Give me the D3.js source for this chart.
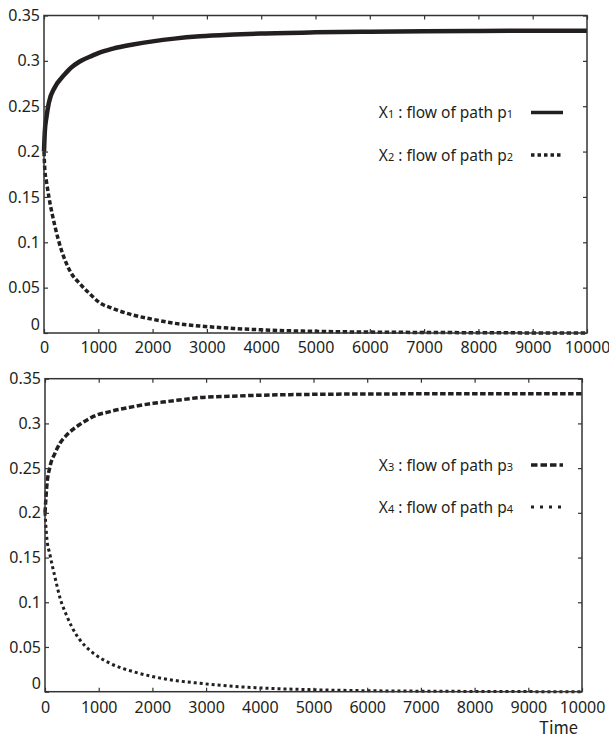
<!DOCTYPE html>
<html>
<head>
<meta charset="utf-8">
<script src="https://cdn.jsdelivr.net/npm/d3@7"></script>
<style>
  html, body { margin: 0; padding: 0; background: #fff; }
  svg { display: block; }
</style>
</head>
<body>
<svg id="chart" width="609" height="738"></svg>
<script>
// time samples (x) and flows
const timeTop = [0, 15, 45, 90, 200, 320, 410, 500, 650, 900, 1000, 1270, 1640, 2000, 2400, 2870, 3500, 4000, 5000, 6000, 7000, 8000, 9000, 10000];
const flowX1 = [0.2, 0.222, 0.238, 0.254, 0.271, 0.281, 0.287, 0.2925, 0.299, 0.306, 0.3086, 0.3135, 0.318, 0.3215, 0.3245, 0.327, 0.329, 0.3302, 0.3315, 0.3322, 0.3327, 0.333, 0.3332, 0.3333];
const flowX2 = [0.2, 0.18, 0.167, 0.15, 0.118, 0.0915, 0.077, 0.066, 0.055, 0.04, 0.0345, 0.027, 0.0198, 0.0151, 0.0107, 0.0077, 0.005, 0.0035, 0.0018, 0.001, 0.0006, 0.0003, 0.0001, 0];

const timeBottom = [0, 32, 93, 186, 279, 404, 590, 652, 838, 900, 1210, 1645, 2017, 2266, 2452, 2886, 3500, 4000, 5000, 6000, 7000, 8000, 9000, 10000];
const flowX3 = [0.2, 0.229, 0.2517, 0.2667, 0.2778, 0.2871, 0.2964, 0.299, 0.3058, 0.3078, 0.3132, 0.3188, 0.3225, 0.3244, 0.3258, 0.3289, 0.3305, 0.3315, 0.3325, 0.3329, 0.3331, 0.3332, 0.3333, 0.3333];
const flowX4 = [0.2, 0.173, 0.153, 0.128, 0.105, 0.085, 0.063, 0.0578, 0.046, 0.043, 0.0318, 0.0224, 0.0168, 0.014, 0.0123, 0.0094, 0.006, 0.0042, 0.0022, 0.0011, 0.0006, 0.0003, 0.0001, 0];

const xTicks = [0, 1000, 2000, 3000, 4000, 5000, 6000, 7000, 8000, 9000, 10000];
const yTicks = [0, 0.05, 0.1, 0.15, 0.2, 0.25, 0.3, 0.35];
const yTickLabels = ["0", "0.05", "0.1", "0.15", "0.2", "0.25", "0.3", "0.35"];

const INK = "#231f20";
const AXIS = "#333";
const FONT = "'Noto Sans', 'Open Sans', sans-serif";

const svg = d3.select("#chart");

function drawPanel(cfg) {
  const x = d3.scaleLinear().domain([0, 10000]).range([cfg.left, cfg.right]);
  const y = d3.scaleLinear().domain([0, 0.35]).range([cfg.bottom, cfg.top]);
  const g = svg.append("g");

  // series
  cfg.series.forEach(s => {
    const line = d3.line()
      .x((d, i) => x(cfg.time[i]))
      .y(d => y(d))
      .curve(d3.curveMonotoneX);
    g.append("path")
      .attr("d", line(s.values))
      .attr("fill", "none")
      .attr("stroke", INK)
      .attr("stroke-width", s.width)
      .attr("stroke-dasharray", s.dash || null)
      .attr("stroke-linejoin", "round");
  });

  // frame
  g.append("rect")
    .attr("x", cfg.left).attr("y", cfg.top)
    .attr("width", cfg.right - cfg.left).attr("height", cfg.bottom - cfg.top)
    .attr("fill", "none").attr("stroke", AXIS).attr("stroke-width", 1.5);

  const fmtY = d => yTickLabels[yTicks.indexOf(d)];

  g.append("g")
    .attr("transform", `translate(0,${cfg.bottom})`)
    .call(d3.axisBottom(x).tickValues(xTicks).tickSize(-4).tickPadding(cfg.xPad).tickFormat(d3.format("d")));
  g.append("g")
    .attr("transform", `translate(0,${cfg.top})`)
    .call(d3.axisTop(x).tickValues(xTicks).tickSize(-4).tickFormat(""));
  const leftAxis = g.append("g")
    .attr("transform", `translate(${cfg.left},0)`)
    .call(d3.axisLeft(y).tickValues(yTicks).tickSize(-4).tickPadding(4).tickFormat(fmtY));
  g.append("g")
    .attr("transform", `translate(${cfg.right},0)`)
    .call(d3.axisRight(y).tickValues(yTicks).tickSize(-4).tickFormat(""));

  g.selectAll(".domain").remove();
  g.selectAll(".tick line").attr("stroke", AXIS).attr("stroke-width", 1.2);
  g.selectAll(".tick text")
    .attr("fill", INK)
    .style("font-family", FONT)
    .style("font-size", "16px");
  leftAxis.selectAll(".tick text")
    .filter(d => d === 0)
    .attr("dy", "-0.2em");

  // legend
  cfg.series.forEach((s, i) => {
    const ly = cfg.legendY[i];
    const t = g.append("text")
      .attr("x", 513).attr("y", ly + 5.5)
      .attr("text-anchor", "end")
      .attr("fill", INK)
      .style("font-family", FONT)
      .style("font-size", "15.5px");
    t.append("tspan").text("X");
    t.append("tspan").style("font-size", "11px").text(s.idx);
    t.append("tspan").text(" : flow of path p");
    t.append("tspan").style("font-size", "11px").text(s.idx);

    g.append("line")
      .attr("x1", 531).attr("x2", 563)
      .attr("y1", ly).attr("y2", ly)
      .attr("stroke", INK)
      .attr("stroke-width", s.legendWidth || s.width)
      .attr("stroke-dasharray", s.legendDash || null);
  });
  return g;
}

drawPanel({
  left: 44, right: 587, top: 15.5, bottom: 333, xPad: 9,
  time: timeTop,
  legendY: [112.5, 155],
  series: [
    { idx: "1", values: flowX1, width: 4.5, legendWidth: 3.5 },
    { idx: "2", values: flowX2, width: 3.5, dash: "4.5,2.5", legendDash: "3.5,3", legendWidth: 3.5 }
  ]
});

drawPanel({
  left: 45, right: 582, top: 378.7, bottom: 691.7, xPad: 10,
  time: timeBottom,
  legendY: [465, 507],
  series: [
    { idx: "3", values: flowX3, width: 3.5, dash: "5.5,2.5", legendDash: "6.5,3", legendWidth: 3.5 },
    { idx: "4", values: flowX4, width: 3, dash: "3,3", legendDash: "3,6", legendWidth: 3 }
  ]
});

svg.append("text")
  .attr("x", 539).attr("y", 734)
  .attr("textLength", 39)
  .attr("lengthAdjust", "spacingAndGlyphs")
  .attr("fill", INK)
  .style("font-family", "'Noto Sans CJK JP', sans-serif")
  .style("font-size", "17px")
  .text("Time");
</script>
</body>
</html>
